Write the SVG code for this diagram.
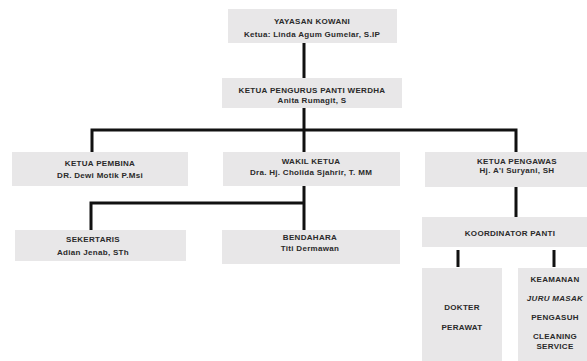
<svg xmlns="http://www.w3.org/2000/svg" width="587" height="361" viewBox="0 0 587 361">
<style>
.box{fill:#e8e7e8;}
.t{font-family:"Liberation Sans",Arial,sans-serif;font-weight:bold;font-size:8px;letter-spacing:0.3px;fill:#2a2a2a;text-anchor:middle;}
.c{stroke:#111;fill:none;}
</style>
<rect width="587" height="361" fill="#ffffff"/>
<g id="connectors">
<path class="c" stroke-width="3" d="M304 43V78M304 108V130M92 152V130H516V152M304 130V152"/>
<path class="c" stroke-width="3" d="M304 186V230M91 230V203H304"/>
<path class="c" stroke-width="3" d="M516 187V217M458 250V267M554 250V267"/>
</g>
<g id="n1"><rect class="box" x="228" y="9" width="169" height="34"/><text class="t" x="312" y="23.5">YAYASAN KOWANI</text><text class="t" x="312" y="36.5">Ketua: Linda Agum Gumelar, S.IP</text></g>
<g id="n2"><rect class="box" x="222" y="78" width="180" height="30"/><text class="t" x="312" y="93">KETUA PENGURUS PANTI WERDHA</text><text class="t" x="312" y="102.5">Anita Rumagit, S</text></g>
<g id="n3"><rect class="box" x="12" y="152" width="176" height="34"/><text class="t" x="100" y="166">KETUA PEMBINA</text><text class="t" x="100" y="178">DR. Dewi Motik P.Msi</text></g>
<g id="n4"><rect class="box" x="223" y="152" width="177" height="34"/><text class="t" x="311" y="164">WAKIL KETUA</text><text class="t" x="311" y="175">Dra. Hj. Cholida Sjahrir, T. MM</text></g>
<g id="n5"><rect class="box" x="425" y="152" width="162" height="35"/><text class="t" x="517" y="164">KETUA PENGAWAS</text><text class="t" x="517" y="173">Hj. A'i Suryani, SH</text></g>
<g id="n6"><rect class="box" x="15" y="230" width="171" height="31"/><text class="t" x="93" y="242">SEKERTARIS</text><text class="t" x="93" y="255">Adian Jenab, STh</text></g>
<g id="n7"><rect class="box" x="222" y="230" width="178" height="34"/><text class="t" x="310" y="240">BENDAHARA</text><text class="t" x="310" y="251">Titi Dermawan</text></g>
<g id="n8"><rect class="box" x="422" y="217" width="165" height="30"/><text class="t" x="510" y="236">KOORDINATOR PANTI</text></g>
<g id="n9"><rect class="box" x="422" y="268" width="80" height="93"/><text class="t" x="462" y="310">DOKTER</text><text class="t" x="462" y="330">PERAWAT</text></g>
<g id="n10"><rect class="box" x="518" y="268" width="69" height="93"/><text class="t" x="555" y="282">KEAMANAN</text><text class="t" x="555" y="301" font-style="italic">JURU MASAK</text><text class="t" x="555" y="320">PENGASUH</text><text class="t" x="555" y="339">CLEANING</text><text class="t" x="555" y="349">SERVICE</text></g>
</svg>
